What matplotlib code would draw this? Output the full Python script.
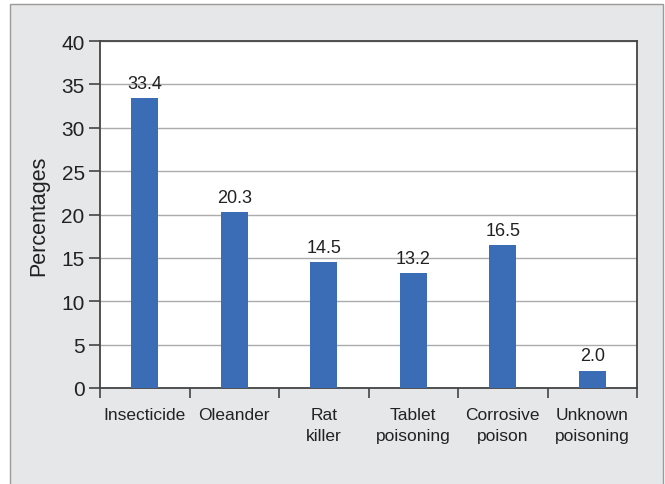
import numpy as np
import matplotlib.pyplot as plt
from matplotlib.patches import Rectangle

categories = ["Insecticide", "Oleander", "Rat\nkiller", "Tablet\npoisoning",
              "Corrosive\npoison", "Unknown\npoisoning"]
percentages = [33.4, 20.3, 14.5, 13.2, 16.5, 2.0]
value_labels = ["33.4", "20.3", "14.5", "13.2", "16.5", "2.0"]

plt.rcParams["font.family"] = ["Liberation Sans Narrow", "Liberation Sans", "DejaVu Sans"]

bg = "#e6e7e8"
bar_color = "#3a6db5"
axis_color = "#444444"
text_color = "#222222"

fig = plt.figure(figsize=(6.65, 4.85), dpi=100, facecolor="white")
# grey panel behind the chart
fig.patches.append(Rectangle((10 / 665, -0.05), 653 / 665, 1.05 - 5 / 485,
                             transform=fig.transFigure, facecolor=bg,
                             edgecolor="#9a9a9a", linewidth=1.0, zorder=-10))

ax = fig.add_axes([100 / 665, 96 / 485, 537 / 665, 347 / 485])
ax.set_facecolor("white")

x = np.arange(len(categories))
bars = ax.bar(x, percentages, width=0.3, color=bar_color, zorder=3)
for xi, v, lab in zip(x, percentages, value_labels):
    ax.annotate(lab, (xi, v), xytext=(0, 4.5), textcoords="offset points",
                ha="center", va="bottom", fontsize=13, color=text_color)

ax.set_xlim(-0.5, len(categories) - 0.5)
ax.set_ylim(0, 40)
ax.set_yticks(np.arange(0, 41, 5))
ax.set_xticks(np.arange(-0.5, len(categories), 1.0))
ax.set_xticklabels([])
ax.set_xticks(x, minor=True)
ax.set_xticklabels(categories, minor=True, fontsize=12.5, color=text_color,
                   linespacing=1.45)
ax.tick_params(axis="x", which="minor", length=0, pad=14)
ax.tick_params(axis="x", which="major", length=7, width=1.2, color=axis_color,
               direction="out")
ax.tick_params(axis="y", length=8, width=1.2, color=axis_color, direction="out",
               labelsize=15, labelcolor=text_color, pad=3)

ax.yaxis.grid(True, color="#ababab", linewidth=1.0, zorder=0)
ax.set_axisbelow(True)
for side in ["left", "bottom", "top", "right"]:
    ax.spines[side].set_color(axis_color)
    ax.spines[side].set_linewidth(1.3)

ax.set_ylabel("Percentages", fontsize=15.5, color=text_color, labelpad=9)

fig.savefig("out.png", dpi=100, facecolor=fig.get_facecolor())
